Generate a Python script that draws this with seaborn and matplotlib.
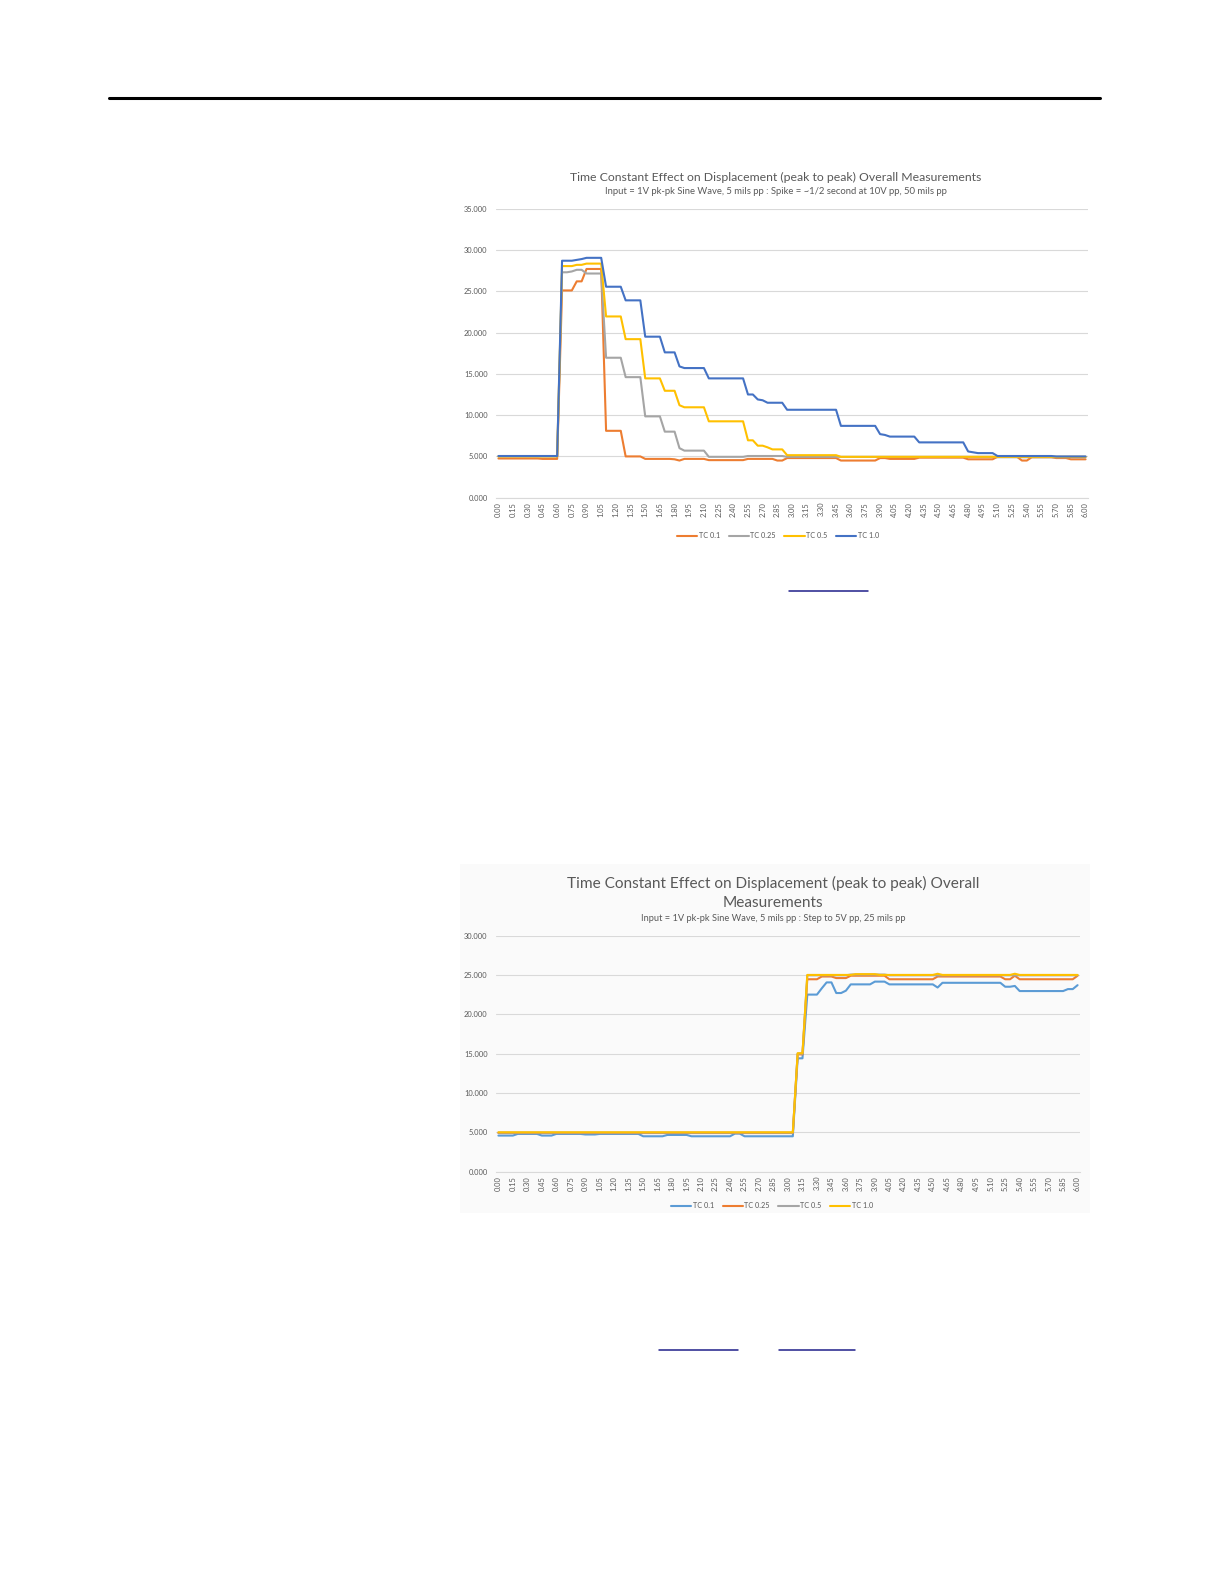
import matplotlib.pyplot as plt
import matplotlib.lines as mlines
import matplotlib.patches as mpatches
import seaborn as sns
import pandas as pd

W, H = 1224, 1584

# time axis, one sample every 0.05 s, labels every 0.15 s
times = [round(i * 0.05, 2) for i in range(121)]
tick_times = times[::3]
tick_labels = [f"{t:.2f}" for t in tick_times]
series_names = ["TC 0.1", "TC 0.25", "TC 0.5", "TC 1.0"]

# ---- chart 1 : spike ----
c1_tc01 = ([4.75] * 9 + [4.7] * 4 + [25.1] * 3 + [26.2] * 2 + [27.7] * 4 + [8.1] * 4
           + [5.0] * 4 + [4.7] * 6 + [4.65, 4.5] + [4.7] * 5 + [4.55] * 8 + [4.7] * 6
           + [4.5] * 2 + [4.8] * 11 + [4.5] * 8 + [4.8] * 2 + [4.7] * 6 + [4.85] * 10
           + [4.65] * 6 + [4.95] * 5 + [4.5] * 2 + [4.9] * 5 + [4.8] * 3 + [4.65] * 4)
c1_tc025 = ([5.0] * 13 + [27.3, 27.3, 27.4, 27.6, 27.6] + [27.15] * 4 + [16.95] * 4
            + [14.6] * 4 + [9.85] * 4 + [8.0] * 3 + [6.0] + [5.7] * 5 + [4.95] * 8
            + [5.05] * 8 + [4.95] * 43 + [4.9] * 19)
c1_tc05 = ([5.0] * 13 + [28.05] * 3 + [28.2] * 2 + [28.35] * 4 + [21.95] * 4 + [19.2] * 4
           + [14.45] * 4 + [12.95] * 3 + [11.2] + [10.95] * 5 + [9.25] * 8
           + [6.95, 6.95, 6.3, 6.3, 6.1] + [5.85] * 3 + [5.15] * 11 + [4.95] * 51)
c1_tc10 = ([5.05] * 13 + [28.7, 28.7, 28.7, 28.8, 28.9] + [29.05] * 4 + [25.55] * 4
           + [23.9] * 4 + [19.5] * 4 + [17.6] * 3 + [15.9] + [15.7] * 5 + [14.45] * 8
           + [12.5, 12.5, 11.9, 11.8] + [11.5] * 4 + [10.65] * 11 + [8.7] * 8
           + [7.7, 7.6] + [7.4] * 6 + [6.7] * 10 + [5.6, 5.5] + [5.4] * 4 + [5.05] * 12
           + [5.0] * 7)

# ---- chart 2 : step ----
c2_tc01 = ([4.58] * 4 + [4.79] * 5 + [4.58] * 3 + [4.79] * 6 + [4.72] * 3 + [4.79] * 9
           + [4.49] * 5 + [4.66] * 5 + [4.49] * 9 + [4.83] * 2 + [4.49] * 11 + [14.4] * 2
           + [22.5] * 3 + [23.3] + [24.05] * 2 + [22.7] * 2 + [23.0] + [23.8] * 5
           + [24.15] * 3 + [23.8] * 10 + [23.4] + [24.0] * 13 + [23.5] * 2 + [23.6]
           + [22.95] * 10 + [23.2] * 2 + [23.7])
c2_tc025 = ([4.9] * 62 + [14.9] * 2 + [24.45] * 3 + [24.8] * 3 + [24.6] * 3 + [24.9] * 8
            + [24.45] * 10 + [24.8] * 14 + [24.45] * 2 + [24.9] + [24.45] * 12 + [24.9])
c2_tc05 = ([4.95] * 62 + [15.0] * 2 + [24.95] * 9 + [25.05] * 8 + [24.95] * 40)
c2_tc10 = ([5.0] * 62 + [15.05] * 2 + [25.0] * 10 + [25.1] * 5 + [25.0] * 12 + [25.15]
           + [25.0] * 15 + [25.15] + [25.0] * 13)

pal1 = ["#ED7D31", "#A5A5A5", "#FFC000", "#4472C4"]
pal2 = ["#5B9BD5", "#ED7D31", "#A5A5A5", "#FFC000"]
text_grey = "#595959"
grid_grey = "#D9D9D9"


def long_df(values):
    return pd.DataFrame({
        "time": times * 4,
        "value": sum(values, []),
        "series": [n for n in series_names for _ in times],
    })


df1 = long_df([c1_tc01, c1_tc025, c1_tc05, c1_tc10])
df2 = long_df([c2_tc01, c2_tc025, c2_tc05, c2_tc10])

sns.set_style("white")
plt.rcParams["font.family"] = ["Lato", "DejaVu Sans"]

fig = plt.figure(figsize=(W / 100, H / 100), dpi=100)


def px_axes(x0, x1, y_top, y_bot):
    return fig.add_axes([x0 / W, 1 - y_bot / H, (x1 - x0) / W, (y_bot - y_top) / H])


def fx(x):
    return x / W


def fy(y):
    return 1 - y / H


# light background behind the second chart
fig.add_artist(mpatches.Rectangle((fx(460), fy(1213)), fx(1090) - fx(460), fy(864) - fy(1213),
                                  transform=fig.transFigure, facecolor="#FAFAFA",
                                  edgecolor="none", zorder=0))

# page header rule
fig.add_artist(mlines.Line2D([fx(109), fx(1100)], [fy(98), fy(98)], color="black", lw=2.2))


def style_axes(ax, df, pal, ymax, legend_xy):
    sns.lineplot(data=df, x="time", y="value", hue="series", hue_order=series_names,
                 palette=pal, linewidth=1.5, ax=ax)
    ax.set_xlim(-0.025, 6.025)
    ax.set_ylim(0, ymax)
    ax.set_xticks(tick_times)
    ax.set_xticklabels(tick_labels, rotation=90, fontsize=5.4, color=text_grey)
    yt = list(range(0, ymax + 1, 5))
    ax.set_yticks(yt)
    ax.set_yticklabels([f"{v:.3f}" for v in yt], fontsize=5.4, color=text_grey)
    ax.tick_params(axis="both", length=0)
    ax.tick_params(axis="y", pad=6)
    ax.tick_params(axis="x", pad=3)
    ax.set_xlabel("")
    ax.set_ylabel("")
    ax.yaxis.grid(True, color=grid_grey, lw=0.8)
    ax.set_axisbelow(True)
    for s in ["top", "left", "right"]:
        ax.spines[s].set_visible(False)
    ax.spines["bottom"].set_color(grid_grey)
    ax.spines["bottom"].set_linewidth(0.8)
    ax.patch.set_alpha(0)
    sns.move_legend(ax, "center", bbox_to_anchor=legend_xy, ncol=4, frameon=False,
                    title=None, fontsize=5.2, handlelength=2.8, handletextpad=0.2,
                    columnspacing=1.2)
    for t in ax.get_legend().get_texts():
        t.set_color(text_grey)


# ---- chart 1 ----
ax1 = px_axes(496, 1088, 208.7, 497.7)
style_axes(ax1, df1, pal1, 35, ((778 - 496) / 592, (497.7 - 536) / 289))
fig.text(fx(776), fy(177), "Time Constant Effect on Displacement (peak to peak) Overall Measurements",
         ha="center", va="center", fontsize=8.8, color=text_grey)
fig.text(fx(776), fy(191), "Input = 1V pk-pk Sine Wave, 5 mils pp : Spike = ~1/2 second at 10V pp, 50 mils pp",
         ha="center", va="center", fontsize=6.8, color=text_grey)

# ---- chart 2 ----
ax2 = px_axes(496, 1080, 935.6, 1171.6)
style_axes(ax2, df2, pal2, 30, ((772 - 496) / 584, (1171.6 - 1206) / 236))
fig.text(fx(773), fy(883), "Time Constant Effect on Displacement (peak to peak) Overall",
         ha="center", va="center", fontsize=11.1, color=text_grey)
fig.text(fx(773), fy(903), "Measurements", ha="center", va="center", fontsize=11.1, color=text_grey)
fig.text(fx(773), fy(919), "Input = 1V pk-pk Sine Wave, 5 mils pp : Step to 5V pp, 25 mils pp",
         ha="center", va="center", fontsize=6.7, color=text_grey)

# underlined link placeholders
for x0, x1, y in [(789, 868, 591), (659, 738, 1350), (779, 855, 1350)]:
    fig.add_artist(mlines.Line2D([fx(x0), fx(x1)], [fy(y), fy(y)], color="#1F1F8A", lw=1.1))

fig.savefig("out.png", dpi=100)
